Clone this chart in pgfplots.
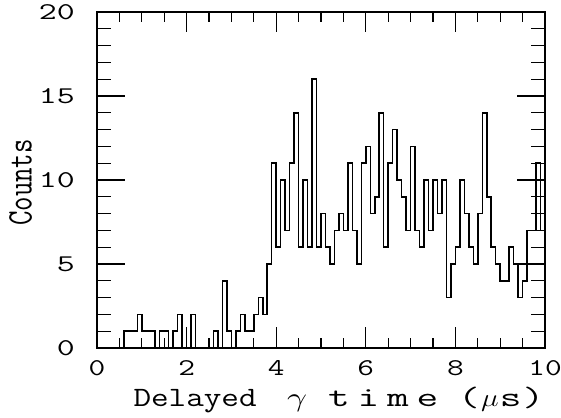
\documentclass[border=0pt]{standalone}
\usepackage{pgfplots}
\pgfplotsset{compat=1.18}
\usepackage{graphicx}
\pgfplotstableread{
x y
0.0 0
0.1 0
0.2 0
0.3 0
0.4 0
0.5 0
0.6 1
0.7 1
0.8 1
0.9 2
1.0 1
1.1 1
1.2 1
1.3 0
1.4 1
1.5 1
1.6 0
1.7 1
1.8 2
1.9 0
2.0 0
2.1 2
2.2 0
2.3 0
2.4 0
2.5 0
2.6 1
2.7 0
2.8 4
2.9 1
3.0 0
3.1 1
3.2 2
3.3 1
3.4 1
3.5 2
3.6 3
3.7 2
3.8 5
3.9 11
4.0 6
4.1 10
4.2 7
4.3 11
4.4 14
4.5 6
4.6 10
4.7 6
4.8 16
4.9 6
5.0 8
5.1 6
5.2 5
5.3 7
5.4 8
5.5 7
5.6 11
5.7 7
5.8 5
5.9 11
6.0 12
6.1 8
6.2 9
6.3 14
6.4 6
6.5 11
6.6 13
6.7 10
6.8 9
6.9 7
7.0 12
7.1 7
7.2 6
7.3 10
7.4 7
7.5 10
7.6 8
7.7 10
7.8 3
7.9 5
8.0 6
8.1 10
8.2 8
8.3 6
8.4 5
8.5 8
8.6 14
8.7 9
8.8 6
8.9 5
9.0 4
9.1 4
9.2 6
9.3 5
9.4 3
9.5 4
9.6 7
9.7 7
9.8 11
9.9 7
10.0 7
}\histdata
\newcommand\xlfont{\fontsize{28}{28}\selectfont\ttfamily}
\newcommand\xc[1]{\scalebox{1.5}[1]{\xlfont #1}}
\begin{document}
\begin{tikzpicture}
\pgfplotsset{
  common/.style={
    width=448pt, height=336pt, scale only axis,
    xmin=0, xmax=10, ymin=0, ymax=20,
    axis line style={line width=1.8pt},
    every tick/.style={black, line width=1.3pt},
    /pgf/number format/assume math mode=true,
    ticklabel style={font=\fontsize{24}{24}\selectfont\ttfamily, inner sep=0pt},
  }
}
\begin{axis}[common,
  xtick={0,2,...,10}, minor x tick num=3,
  ytick=\empty,
  major tick length=20.5pt, minor tick length=10pt,
  xticklabel={\scalebox{1.35}[1]{\pgfmathprintnumber{\tick}}},
  xticklabel style={anchor=north, yshift=-12pt},
]
\addplot[const plot, black, line width=1.5pt] table[x=x, y=y] {\histdata};
\end{axis}
\begin{axis}[common,
  xtick=\empty, minor xtick={}, ytick={0,5,...,20}, minor y tick num=4,
  major tick length=28pt, minor tick length=14pt,
  yticklabel={\scalebox{1.45}[1]{\pgfmathprintnumber{\tick}}},
  yticklabel style={anchor=east, xshift=-22pt},
]
\end{axis}
\node[anchor=base, rotate=90, inner sep=0pt] at (-65.3pt,165.5pt)
  {\scalebox{0.78}[1]{\fontsize{36}{36}\selectfont\ttfamily Counts}};
\node[anchor=base west, inner sep=0pt] at (36.3pt,-58.7pt)
  {\scalebox{1.22}[1]{\xlfont Delayed}};
\node[anchor=base west, inner sep=0pt] at (190pt,-58.7pt)
  {\resizebox{20pt}{11.5pt}{$\gamma$}};
\node[anchor=base west, inner sep=0pt] at (231pt,-58.7pt)
  {\makebox[110pt][s]{\xc{t}\hfill\xc{i}\hfill\xc{m}\hfill\xc{e}}};
\node[anchor=base west, inner sep=0pt] at (361pt,-58.7pt)
  {\makebox[86pt][s]{\xc{(}\hfill\scalebox{1.2}[1]{\xlfont$\mu$}\hfill\xc{s}\hfill\xc{)}}};
\pgfresetboundingbox
\path[use as bounding box] (-97pt,-69pt) rectangle (464pt,348pt);
\end{tikzpicture}
\end{document}
